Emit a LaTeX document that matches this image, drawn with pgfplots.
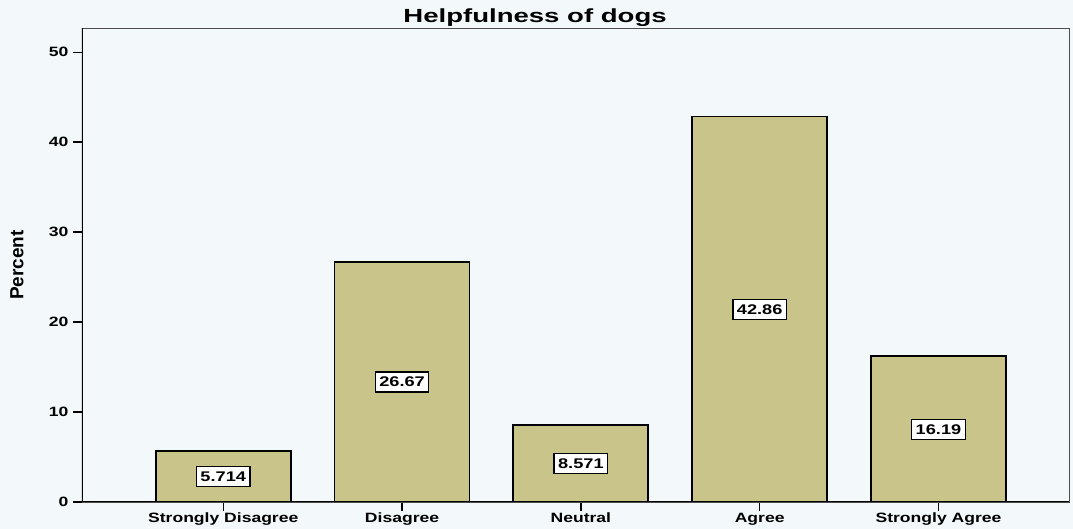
\documentclass[border=0pt]{standalone}
\usepackage{pgfplots}
\pgfplotsset{compat=1.18}
\usepackage{pgfplotstable}
\usepackage{fontspec}
\setmainfont{Liberation Sans}[FakeStretch=1.3]
\newfontfamily\titlefont{Liberation Sans}[FakeStretch=1.45]
\newfontfamily\plainfont{Liberation Sans}
\definecolor{barfill}{RGB}{201,196,138}
\definecolor{bg}{RGB}{243,248,251}
\pgfplotstableread{
x y half label
0 5.714 2.857 5.714
1 26.67 13.335 26.67
2 8.571 4.2855 8.571
3 42.86 21.43 42.86
4 16.19 8.095 16.19
}\datatable
\begin{document}
\begin{tikzpicture}
\fill[bg] (-82pt,-27pt) rectangle (991pt,502pt);
\begin{axis}[
  at={(0,0)}, anchor=south west,
  scale only axis, width=987pt, height=474pt,
  xmin=-0.79, xmax=4.73, ymin=0, ymax=52.7,
  axis line style={draw=black!70, line width=0.9pt},
  tick pos=left, tick align=outside, major tick length=9pt,
  tick style={black, line width=1.5pt},
  xtick={0,...,4},
  xticklabels={Strongly Disagree,Disagree,Neutral,Agree,Strongly Agree},
  ytick={0,10,...,50},
  /pgf/number format/assume math mode=true,
  ticklabel style={font=\fontsize{13.5}{15}\selectfont\bfseries},
  xticklabel style={anchor=base, yshift=-12pt},
  yticklabel style={anchor=east, xshift=-1pt},
  ylabel={Percent},
  every axis y label/.style={at={(axis description cs:0,0.5)}, xshift=-65pt, rotate=90, anchor=center, font=\plainfont\fontsize{19}{21}\selectfont\bfseries},
  title={Helpfulness of dogs},
  every axis title/.style={at={(axis description cs:0.459,1)}, anchor=base, yshift=5pt, font=\titlefont\fontsize{19}{21}\selectfont\bfseries},
]
\addplot[ybar, bar width=135pt, fill=barfill, draw=black, line width=1.8pt] table[x=x, y=y] {\datatable};
\addplot[draw=none, mark=none, nodes near coords, point meta=explicit symbolic,
  nodes near coords style={anchor=center, draw=black, fill=white, line width=1.3pt, inner xsep=4pt, inner ysep=0pt, minimum height=20pt, font=\fontsize{14}{16}\selectfont\bfseries}]
  table[x=x, y=half, meta=label] {\datatable};
\draw[black, line width=1.6pt] (rel axis cs:0,1) -- (rel axis cs:0,0) -- (rel axis cs:1,0);
\end{axis}
\pgfresetboundingbox
\path (-82pt,-27pt) rectangle (991pt,502pt);
\end{tikzpicture}
\end{document}
